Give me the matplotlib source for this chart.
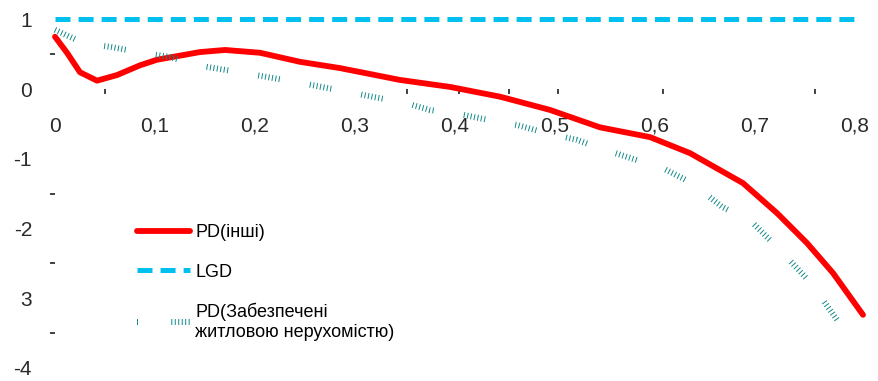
import matplotlib
matplotlib.use("Agg")
import matplotlib.pyplot as plt
from matplotlib.ticker import FixedLocator

plt.rcParams['font.family'] = ['Liberation Sans', 'DejaVu Sans']
plt.rcParams['lines.scale_dashes'] = False

# data
pd_other_x = [0.0, 0.012, 0.025, 0.042, 0.062, 0.085, 0.102, 0.145, 0.17, 0.205, 0.245, 0.285,
              0.345, 0.395, 0.445, 0.495, 0.545, 0.595, 0.635, 0.688, 0.722, 0.752, 0.778, 0.808]
pd_other_y = [0.75, 0.52, 0.24, 0.12, 0.20, 0.34, 0.42, 0.53, 0.56, 0.52, 0.39, 0.30,
              0.13, 0.03, -0.11, -0.30, -0.55, -0.69, -0.92, -1.35, -1.78, -2.21, -2.64, -3.24]

lgd_x = [0.0, 0.8]
lgd_y = [1.0, 1.0]

pd_housing_x = [0.0, 0.028, 0.057, 0.087, 0.115, 0.142, 0.185, 0.245, 0.292, 0.317, 0.35,
                0.375, 0.408, 0.432, 0.463, 0.488, 0.522, 0.545, 0.582, 0.607, 0.637,
                0.667, 0.697, 0.725, 0.755, 0.782]
pd_housing_y = [0.85, 0.66, 0.60, 0.52, 0.46, 0.34, 0.24, 0.09, -0.04, -0.11, -0.20,
                -0.30, -0.37, -0.44, -0.52, -0.62, -0.73, -0.85, -1.02, -1.13, -1.35,
                -1.69, -1.91, -2.31, -2.77, -3.31]

x_ticks = [0, 0.1, 0.2, 0.3, 0.4, 0.5, 0.6, 0.7, 0.8]
x_labels = ["0", "0,1", "0,2", "0,3", "0,4", "0,5", "0,6", "0,7", "0,8"]
y_ticks = [-4, -3, -2, -1, 0, 1]
y_labels = ["-4", "3", "-2", "-1", "0", "1"]
x_minor = [0.05, 0.352, 0.404, 0.454, 0.503, 0.608, 0.76]
y_minor = [0.5, -1.5, -2.5, -3.0, -3.5]

fig = plt.figure(figsize=(8.79, 3.81), dpi=100)
ax = fig.add_axes([0, 0, 1, 1])
ax.set_xlim(-0.055, 0.824)
ax.set_ylim(-4.189, 1.277)

ax.plot(pd_other_x, pd_other_y, color="#ff0000", lw=4.2, label="PD(інші)",
        solid_capstyle="round", solid_joinstyle="round")
ax.plot(lgd_x, lgd_y, color="#00c0f0", lw=3.6, dashes=(10.8, 5.8), label="LGD")
hatch = (0.7, 1.8) * 6 + (0.7, 22)
ax.plot(pd_housing_x, pd_housing_y, color="#108888", lw=4.3, dashes=hatch,
        label="PD(Забезпечені\nжитловою нерухомістю)")

for s in ax.spines.values():
    s.set_visible(False)
ax.spines['left'].set_position(('data', 0))
ax.spines['bottom'].set_position(('data', 0))

ax.set_xticks(x_ticks)
ax.set_xticklabels(x_labels)
ax.set_yticks(y_ticks)
ax.set_yticklabels(y_labels)
ax.xaxis.set_minor_locator(FixedLocator(x_minor))
ax.yaxis.set_minor_locator(FixedLocator(y_minor))
ax.tick_params(which="major", length=0, labelsize=15, labelcolor="#2a2a2a")
ax.tick_params(axis="x", which="major", pad=20)
ax.tick_params(axis="y", which="major", pad=16.5)
ax.tick_params(which="minor", direction="out", length=3.5, width=1.3, color="#333333")

leg = ax.legend(loc="upper left", bbox_to_anchor=(137 / 879, 0.412), frameon=False,
                fontsize=13, handlelength=2.93, handletextpad=0.3, labelspacing=1.25,
                borderpad=0, borderaxespad=0)
# legend sample for the hatched series: one tick, a gap, then a short run of ticks
leg.get_lines()[2].set_dashes((0.7, 24) + (0.7, 1.8) * 6)

fig.savefig("out.png", dpi=100)
